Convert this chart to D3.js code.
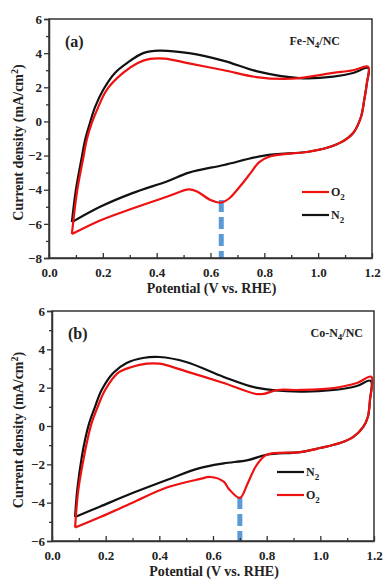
<!DOCTYPE html>
<html>
<head>
<meta charset="utf-8">
<script src="https://cdn.jsdelivr.net/npm/d3@7"></script>
<style>
  body { margin: 0; background: #fff; }
  svg text { font-family: "Liberation Serif", "Times New Roman", serif; font-weight: bold; fill: #222; }
</style>
</head>
<body>
<svg id="chart" width="385" height="581"></svg>
<script>
// --- data: [potential V, current density mA/cm2] ---
const feN2 = [[0.085,-5.9],[0.1,-4.0],[0.122,-2.08],[0.134,-1.09],[0.152,-0.09],[0.171,0.84],[0.201,1.84],
  [0.245,2.84],[0.29,3.42],[0.35,4.0],[0.41,4.15],[0.52,4.0],[0.65,3.55],[0.77,2.95],[0.93,2.54],
  [1.056,2.62],[1.13,2.84],[1.186,3.13],
  [1.181,2.25],[1.171,1.25],[1.159,0.26],[1.13,-0.68],[1.088,-1.2],[1.03,-1.56],[0.958,-1.79],
  [0.8,-2.0],[0.65,-2.55],[0.52,-3.0],[0.44,-3.5],[0.31,-4.2],[0.19,-5.0],[0.085,-5.9]];
const feO2 = [[0.085,-6.6],[0.105,-4.02],[0.128,-2.08],[0.14,-1.09],[0.159,-0.09],[0.183,0.84],[0.214,1.84],
  [0.275,2.84],[0.33,3.42],[0.375,3.66],[0.43,3.68],[0.52,3.4],[0.65,3.0],[0.77,2.6],[0.9,2.5],
  [1.056,2.84],[1.13,3.0],[1.186,3.2],
  [1.181,2.25],[1.171,1.25],[1.159,0.26],[1.13,-0.68],[1.088,-1.2],[1.03,-1.56],[0.958,-1.79],
  [0.82,-2.05],[0.78,-2.4],[0.75,-3.0],[0.71,-3.8],[0.67,-4.5],[0.64,-4.75],[0.6,-4.6],[0.55,-4.1],
  [0.52,-3.98],[0.44,-4.4],[0.31,-5.1],[0.19,-5.8],[0.085,-6.6]];
const coN2 = [[0.086,-4.75],[0.094,-3.34],[0.111,-1.62],[0.123,-0.73],[0.139,0.16],[0.16,0.99],[0.185,1.88],
  [0.228,2.77],[0.278,3.29],[0.339,3.55],[0.4,3.6],[0.5,3.34],[0.64,2.56],[0.76,2.0],[0.925,1.79],
  [1.05,1.88],[1.136,2.09],[1.188,2.36],
  [1.185,1.36],[1.177,0.47],[1.16,-0.05],[1.123,-0.57],[1.073,-0.89],[0.999,-1.15],[0.925,-1.36],
  [0.8,-1.5],[0.73,-1.78],[0.64,-1.95],[0.55,-2.2],[0.43,-2.8],[0.3,-3.5],[0.18,-4.2],[0.086,-4.75]];
const coO2 = [[0.086,-5.3],[0.098,-3.34],[0.119,-1.62],[0.132,-0.73],[0.148,0.16],[0.17,0.99],[0.198,1.88],
  [0.246,2.77],[0.297,3.08],[0.353,3.25],[0.4,3.25],[0.5,2.85],[0.64,2.24],[0.76,1.67],[0.79,1.68],
  [0.84,1.88],[0.925,1.88],[1.05,1.98],[1.136,2.24],[1.19,2.57],
  [1.185,1.36],[1.177,0.47],[1.16,-0.05],[1.123,-0.57],[1.073,-0.89],[0.999,-1.15],[0.925,-1.36],
  [0.8,-1.5],[0.76,-2.1],[0.73,-2.97],[0.7,-3.75],[0.66,-3.3],[0.64,-2.9],[0.59,-2.66],
  [0.55,-2.77],[0.43,-3.2],[0.3,-4.0],[0.18,-4.75],[0.086,-5.3]];
const xTicks = [0.0, 0.2, 0.4, 0.6, 0.8, 1.0, 1.2];
const yTicksA = [-8, -6, -4, -2, 0, 2, 4, 6];
const yTicksB = [-6, -4, -2, 0, 2, 4, 6];
const peakA = [0.64, -4.6];   // blue dashed marker: potential, top of line
const peakB = [0.70, -3.7];

const RED = "#ee1111", BLACK = "#111111", BLUE = "#5b9bd5";

const panels = [
  { left: 49, right: 372, top: 19, bottom: 258, yTicks: yTicksA, tag: "(a)", sample: "Fe-N", yMin: -8,
    series: [{ data: feN2, color: BLACK }, { data: feO2, color: RED }],
    legend: [{ color: RED, name: "O" }, { color: BLACK, name: "N" }], legX: 302, legY: 192,
    peak: peakA, sampleX: 340 },
  { left: 52, right: 374, top: 311, bottom: 541, yTicks: yTicksB, tag: "(b)", sample: "Co-N", yMin: -6,
    series: [{ data: coN2, color: BLACK }, { data: coO2, color: RED }],
    legend: [{ color: BLACK, name: "N" }, { color: RED, name: "O" }], legX: 277, legY: 472,
    peak: peakB, sampleX: 363 }
];

const svg = d3.select("#chart");

panels.forEach(p => {
  const x = d3.scaleLinear().domain([0, 1.2]).range([p.left, p.right]);
  const y = d3.scaleLinear().domain([p.yMin, 6]).range([p.bottom, p.top]);
  const g = svg.append("g");

  // blue dashed marker under the curves
  g.append("line")
    .attr("x1", x(p.peak[0])).attr("x2", x(p.peak[0]))
    .attr("y1", y(p.peak[1])).attr("y2", y(p.yMin))
    .attr("stroke", BLUE).attr("stroke-width", 5).attr("stroke-dasharray", "12,5");

  const line = d3.line().x(d => x(d[0])).y(d => y(d[1])).curve(d3.curveCatmullRom.alpha(0.5));
  p.series.forEach(s => {
    g.append("path").attr("d", line(s.data))
      .attr("fill", "none").attr("stroke", s.color).attr("stroke-width", 2.2);
  });

  // frame
  g.append("rect").attr("x", p.left).attr("y", p.top)
    .attr("width", p.right - p.left).attr("height", p.bottom - p.top)
    .attr("fill", "none").attr("stroke", "#333").attr("stroke-width", 1.5);

  // y axis: ticks outside
  const yAxis = g.append("g").attr("transform", "translate(" + p.left + ",0)")
    .call(d3.axisLeft(y).tickValues(p.yTicks).tickSize(5).tickFormat(d3.format("d")));
  g.append("g").attr("transform", "translate(" + p.left + ",0)")
    .call(d3.axisLeft(y).tickValues(d3.range(p.yMin + 1, 6, 2)).tickSize(3).tickFormat(""))
    .call(a => a.select(".domain").remove());
  // x axis: ticks inside
  const xAxis = g.append("g").attr("transform", "translate(0," + p.bottom + ")")
    .call(d3.axisBottom(x).tickValues(xTicks).tickSizeInner(-5).tickSizeOuter(0).tickFormat(d3.format(".1f")));
  g.append("g").attr("transform", "translate(0," + p.bottom + ")")
    .call(d3.axisBottom(x).tickValues(d3.range(0.1, 1.2, 0.2)).tickSizeInner(-3).tickSizeOuter(0).tickFormat(""))
    .call(a => a.select(".domain").remove());
  [yAxis, xAxis].forEach(a => {
    a.select(".domain").attr("stroke", "#333").attr("stroke-width", 1.5);
    a.selectAll("text").style("font-size", "13px").attr("fill", "#222");
  });
  xAxis.selectAll("text").attr("dy", null).attr("y", 19);
  yAxis.selectAll("text").attr("x", -7);
  g.selectAll(".tick line").attr("stroke", "#333").attr("stroke-width", 1.3);

  // axis titles
  g.append("text").attr("x", (p.left + p.right) / 2 + 1).attr("y", p.bottom + 35)
    .attr("text-anchor", "middle").style("font-size", "14px").text("Potential (V vs. RHE)");
  const yt = g.append("text")
    .attr("transform", "translate(23," + ((p.top + p.bottom) / 2 + 4) + ") rotate(-90)")
    .attr("text-anchor", "middle").style("font-size", "14px");
  yt.append("tspan").text("Current density (mA/cm");
  yt.append("tspan").attr("dy", -5).style("font-size", "10px").text("2");
  yt.append("tspan").attr("dy", 5).text(")");

  // panel tag and sample name
  g.append("text").attr("x", p.left + 16).attr("y", p.top + 28).style("font-size", "16px").text(p.tag);
  const st = g.append("text").attr("x", p.sampleX).attr("y", p.top + 26)
    .attr("text-anchor", "end").style("font-size", "12px");
  st.append("tspan").text(p.sample);
  st.append("tspan").attr("dy", 3).style("font-size", "9px").text("4");
  st.append("tspan").attr("dy", -3).text("/NC");

  // legend
  p.legend.forEach((l, i) => {
    const ly = p.legY + i * 23;
    g.append("line").attr("x1", p.legX).attr("x2", p.legX + 27).attr("y1", ly).attr("y2", ly)
      .attr("stroke", l.color).attr("stroke-width", 2.2);
    const t = g.append("text").attr("x", p.legX + 29).attr("y", ly + 4).style("font-size", "12px");
    t.append("tspan").text(l.name);
    t.append("tspan").attr("dy", 4).style("font-size", "9px").text("2");
  });
});
</script>
</body>
</html>
